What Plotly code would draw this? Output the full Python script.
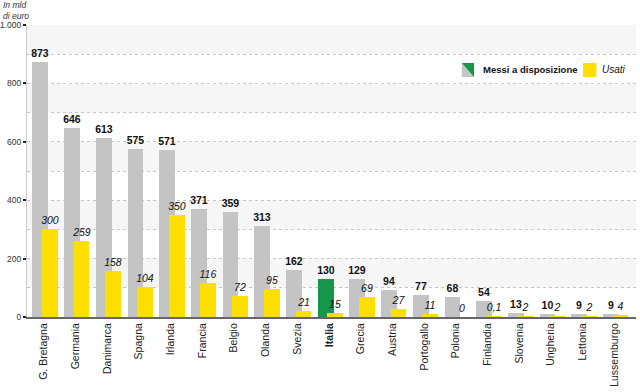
import plotly.graph_objects as go

countries = ["G. Bretagna", "Germania", "Danimarca", "Spagna", "Irlanda", "Francia",
             "Belgio", "Olanda", "Svezia", "Italia", "Grecia", "Austria", "Portogallo",
             "Polonia", "Finlandia", "Slovenia", "Ungheria", "Lettonia", "Lussemburgo"]
messi = [873, 646, 613, 575, 571, 371, 359, 313, 162, 130, 129, 94, 77, 68, 54, 13, 10, 9, 9]
usati = [300, 259, 158, 104, 350, 116, 72, 95, 21, 15, 69, 27, 11, 0, 0.1, 2, 2, 2, 4]
y_tickvals = [0, 200, 400, 600, 800, 1000]
y_ticktext = ["0", "200", "400", "600", "800", "1.000"]
highlight = "Italia"

FONT = "Liberation Sans, Arial, sans-serif"
GRAY = "#c4c4c4"
GREEN = "#15964a"
YELLOW = "#ffde00"

def fmt(v):
    s = ("%g" % v)
    return s.replace(".", ",")

xs = list(range(len(countries)))
gray_colors = [GREEN if c == highlight else GRAY for c in countries]
tick_text = ["<b>%s</b>" % c if c == highlight else c for c in countries]

fig = go.Figure()
fig.add_trace(go.Bar(
    x=xs, y=messi, width=0.5, offset=-0.26,
    marker=dict(color=gray_colors, line=dict(width=0)),
    text=["<b>%s</b>" % fmt(v) for v in messi], textposition="outside",
    constraintext="none",
    textfont=dict(family=FONT, size=10.5, color="#111"),
    cliponaxis=False, showlegend=False, hoverinfo="skip"))
fig.add_trace(go.Bar(
    x=xs, y=usati, width=0.5, offset=0.04,
    marker=dict(color=YELLOW, line=dict(width=0)),
    text=["<i>%s</i>" % fmt(v) for v in usati], textposition="outside",
    constraintext="none",
    textfont=dict(family=FONT, size=10.5, color="#111"),
    cliponaxis=False, showlegend=False, hoverinfo="skip"))

shapes = []
for lo in range(100, 1000, 200):
    shapes.append(dict(type="rect", xref="paper", yref="y", x0=0, x1=1, y0=lo, y1=lo + 100,
                       fillcolor="#f6f6f6", line=dict(width=0), layer="below"))
# legend icons
shapes.append(dict(type="path", xref="paper", yref="paper",
                   path="M 0.714 0.822 L 0.734 0.822 L 0.714 0.870 Z", fillcolor=GRAY, line=dict(width=0)))
shapes.append(dict(type="path", xref="paper", yref="paper",
                   path="M 0.734 0.822 L 0.734 0.870 L 0.714 0.870 Z", fillcolor=GREEN, line=dict(width=0)))
shapes.append(dict(type="rect", xref="paper", yref="paper", x0=0.913, x1=0.935, y0=0.822, y1=0.870,
                   fillcolor=YELLOW, line=dict(width=0)))
fig.update_layout(shapes=shapes)

fig.add_annotation(text="<b>Messi a disposizione</b>", xref="paper", yref="paper", x=0.745, y=0.846,
                   xanchor="left", yanchor="middle", showarrow=False,
                   font=dict(family=FONT, size=9.5, color="#111"))
fig.add_annotation(text="<i>Usati</i>", xref="paper", yref="paper", x=0.941, y=0.846,
                   xanchor="left", yanchor="middle", showarrow=False,
                   font=dict(family=FONT, size=10, color="#111"))
fig.add_annotation(text="<i>In mld<br>di euro</i>", xref="paper", yref="paper", x=0, y=1,
                   xanchor="right", yanchor="bottom", xshift=4, yshift=2, align="left",
                   showarrow=False, font=dict(family=FONT, size=8.5, color="#333"))

fig.update_layout(
    width=640, height=392,
    margin=dict(l=27, r=4, t=25, b=75),
    paper_bgcolor="white", plot_bgcolor="white",
    barmode="overlay", bargap=0,
    font=dict(family=FONT, size=10, color="#222"),
    xaxis=dict(range=[-0.43, 18.78], tickmode="array", tickvals=[x + 0.1 for x in xs],
               ticktext=tick_text, tickangle=-90, showgrid=False, zeroline=False,
               showline=True, linecolor="#666", linewidth=2, ticks="", automargin=False,
               tickfont=dict(family=FONT, size=10.5, color="#222")),
    yaxis=dict(range=[0, 1000], tickmode="array", tickvals=y_tickvals, ticktext=y_ticktext,
               showgrid=True, gridcolor="#c8c8c8", griddash="dot", gridwidth=1,
               minor=dict(dtick=100, showgrid=True, gridcolor="#c8c8c8", griddash="dot", gridwidth=1),
               zeroline=False, showline=True, linecolor="#cccccc", linewidth=1, automargin=False,
               ticks="outside", ticklen=3, tickcolor="#222", tickwidth=1.5,
               tickfont=dict(family=FONT, size=8.5, color="#333")),
)
fig.write_html("out.html", config={"displayModeBar": False},
               post_script="document.body.style.margin='0';document.body.style.padding='0';")
